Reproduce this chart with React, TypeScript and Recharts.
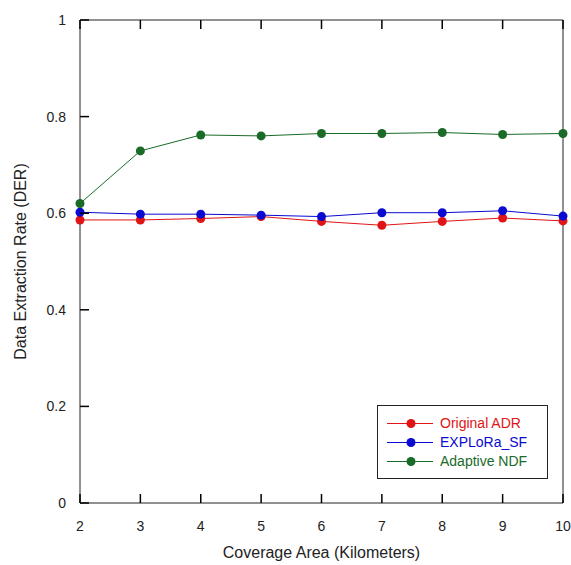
import { LineChart, Line, XAxis, YAxis } from 'recharts'

const coverage = [2, 3, 4, 5, 6, 7, 8, 9, 10]
const originalAdr = [0.586, 0.586, 0.589, 0.593, 0.583, 0.575, 0.583, 0.59, 0.584]
const exploraSf = [0.602, 0.598, 0.598, 0.596, 0.593, 0.601, 0.601, 0.605, 0.594]
const adaptiveNdf = [0.62, 0.729, 0.762, 0.76, 0.765, 0.765, 0.767, 0.763, 0.765]

const xTicks = [2, 3, 4, 5, 6, 7, 8, 9, 10]
const yTicks = [0, 0.2, 0.4, 0.6, 0.8, 1]

const seriesInfo = [
  { key: 'original', name: 'Original ADR', color: '#e01414' },
  { key: 'explora', name: 'EXPLoRa_SF', color: '#0a0ad0' },
  { key: 'adaptive', name: 'Adaptive NDF', color: '#1a6b28' },
]

const data = coverage.map((c, i) => ({
  area: c,
  original: originalAdr[i],
  explora: exploraSf[i],
  adaptive: adaptiveNdf[i],
}))

const font = '"Liberation Sans", Arial, sans-serif'
const axisColor = '#222'
const TICK_LEN = 9
const GAP = 14

type Side = 'bottom' | 'top' | 'left' | 'right'

// inward tick marks + optional label; tickSize is 0 so the axis line sits GAP away from (x, y)
function makeTick(side: Side, showLabel: boolean) {
  return (props: any) => {
    const x = Number(props.x)
    const y = Number(props.y)
    const value = props.payload ? props.payload.value : ''
    let x1 = x, y1 = y, x2 = x, y2 = y
    if (side === 'bottom') { y1 = y - GAP; y2 = y - GAP - TICK_LEN }
    if (side === 'top') { y1 = y + GAP; y2 = y + GAP + TICK_LEN }
    if (side === 'left') { x1 = x + GAP; x2 = x + GAP + TICK_LEN }
    if (side === 'right') { x1 = x - GAP; x2 = x - GAP - TICK_LEN }
    return (
      <g>
        <path d={`M${x1},${y1}L${x2},${y2}`} stroke="#000" strokeWidth={1.5} fill="none" />
        {showLabel && (
          <text
            x={x}
            y={side === 'bottom' ? y + 4 : y}
            dy={side === 'bottom' ? '0.71em' : '0.355em'}
            textAnchor={side === 'left' ? 'end' : 'middle'}
            fill={axisColor}
            fontSize={14}
            fontFamily={font}
          >
            {value}
          </text>
        )}
      </g>
    )
  }
}

function LegendBox() {
  return (
    <div
      style={{
        position: 'absolute',
        left: 377,
        top: 405,
        width: 169,
        height: 64,
        border: '1px solid #222',
        background: '#fff',
        fontFamily: font,
        fontSize: 14,
        paddingTop: 8,
        boxSizing: 'content-box',
      }}
    >
      {seriesInfo.map((s) => (
        <div key={s.key} style={{ height: 19, display: 'flex', alignItems: 'center' }}>
          <svg width={62} height={19} style={{ flex: 'none' }}>
            <line x1={9} x2={55} y1={9.5} y2={9.5} stroke={s.color} strokeWidth={1} />
            <circle cx={33} cy={9.5} r={4.5} fill={s.color} />
          </svg>
          <span style={{ color: s.color, lineHeight: '19px' }}>{s.name}</span>
        </div>
      ))}
    </div>
  )
}

export default function App() {
  return (
    <div style={{ position: 'absolute', left: 0, top: 0, width: 571, height: 565, background: '#fff' }}>
      <LineChart width={571} height={565} data={data} margin={{ top: 19, right: 7, bottom: 0, left: 0 }}>
        <XAxis
          dataKey="area"
          type="number"
          domain={[2, 10]}
          ticks={xTicks}
          height={62}
          tickSize={0}
          tickMargin={GAP}
          tickLine={false}
          axisLine={{ stroke: axisColor }}
          tick={makeTick('bottom', true)}
          label={{
            value: 'Coverage Area (Kilometers)',
            position: 'insideBottom',
            offset: 7,
            style: { fill: axisColor, fontSize: 16, fontFamily: font },
          }}
        />
        <XAxis
          xAxisId="top"
          dataKey="area"
          type="number"
          orientation="top"
          domain={[2, 10]}
          ticks={xTicks}
          height={1}
          tickSize={0}
          tickMargin={GAP}
          tickLine={false}
          axisLine={{ stroke: axisColor }}
          tick={makeTick('top', false)}
        />
        <YAxis
          type="number"
          domain={[0, 1]}
          ticks={yTicks}
          width={80}
          tickSize={0}
          tickMargin={GAP}
          tickLine={false}
          axisLine={{ stroke: axisColor }}
          tick={makeTick('left', true)}
          label={{
            value: 'Data Extraction Rate (DER)',
            angle: -90,
            position: 'insideLeft',
            offset: 20,
            style: { fill: axisColor, fontSize: 16, fontFamily: font, textAnchor: 'middle' },
          }}
        />
        <YAxis
          yAxisId="right"
          orientation="right"
          type="number"
          domain={[0, 1]}
          ticks={yTicks}
          width={1}
          tickSize={0}
          tickMargin={GAP}
          tickLine={false}
          axisLine={{ stroke: axisColor }}
          tick={makeTick('right', false)}
        />
        {seriesInfo.map((s) => (
          <Line
            key={s.key}
            dataKey={s.key}
            name={s.name}
            stroke={s.color}
            strokeWidth={1}
            dot={{ r: 4.5, fill: s.color, stroke: s.color, strokeWidth: 0 }}
            activeDot={false}
            isAnimationActive={false}
            type="linear"
          />
        ))}
      </LineChart>
      <LegendBox />
    </div>
  )
}
